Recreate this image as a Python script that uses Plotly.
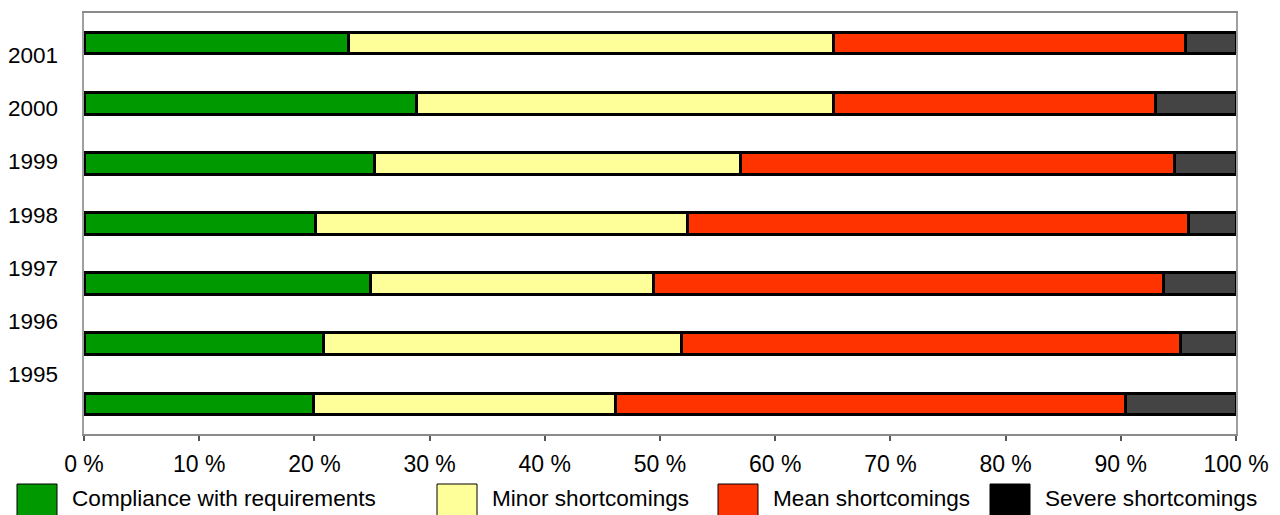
import plotly.graph_objects as go

# Survey years, top to bottom
years = ["2001", "2000", "1999", "1998", "1997", "1996", "1995"]

# Share of inspected sites per rating class (%)
compliance = [23.0, 28.9, 25.2, 20.1, 24.9, 20.8, 19.9]
minor = [42.1, 36.2, 31.8, 32.3, 24.5, 31.1, 26.2]
mean = [30.5, 27.9, 37.7, 43.5, 44.3, 43.3, 44.3]
severe = [4.4, 7.0, 5.3, 4.1, 6.3, 4.8, 9.6]

series_names = ["Compliance with requirements", "Minor shortcomings",
                "Mean shortcomings", "Severe shortcomings"]
bar_colors = ["#009900", "#FFFF99", "#FF3300", "#444444"]
legend_colors = ["#009900", "#FFFF99", "#FF3300", "#000000"]

x_ticks = list(range(0, 101, 10))
x_ticktext = [f"{v} %" for v in x_ticks]

W, H = 1280, 515
ML, MR, MT, MB = 84, 44, 13, 81
FONT = "Liberation Sans, Arial, sans-serif"

fig = go.Figure()
for name, vals, col in zip(series_names, [compliance, minor, mean, severe], bar_colors):
    fig.add_trace(go.Bar(
        y=years, x=vals, orientation="h", name=name,
        marker=dict(color=col, line=dict(color="#000000", width=3)),
        width=0.36, showlegend=False, hoverinfo="x+y+name",
    ))

# year labels sit on a separate, evenly spaced scale beside the bars
label_years = [int(y) for y in years]
fig.add_trace(go.Scatter(x=[None], y=[None], yaxis="y2", showlegend=False))

fig.update_layout(
    width=W, height=H,
    margin=dict(l=ML, r=MR, t=MT, b=MB, pad=0, autoexpand=False),
    barmode="stack",
    plot_bgcolor="white", paper_bgcolor="white",
    font=dict(family=FONT, size=22, color="#000000"),
    xaxis=dict(
        range=[0, 100], tickvals=x_ticks, ticktext=x_ticktext,
        showgrid=False, zeroline=False, automargin=False,
        showline=True, linecolor="#8a8a8a", linewidth=2, mirror=True,
        ticks="outside", ticklen=5, tickwidth=1.5, tickcolor="#555555",
        tickfont=dict(size=23, family=FONT, color="#000000"),
        ticklabelstandoff=3, fixedrange=True,
    ),
    yaxis=dict(
        categoryorder="array", categoryarray=years[::-1],
        range=[-0.5, 6.5], showticklabels=False, ticks="",
        showgrid=False, zeroline=False, automargin=False,
        showline=True, linecolor="#a0a0a0", linewidth=2, mirror=True,
        fixedrange=True,
    ),
    yaxis2=dict(
        overlaying="y", side="left",
        range=[1993.882, 2001.785],
        tickvals=label_years, ticktext=years,
        showgrid=False, zeroline=False, showline=False, ticks="",
        automargin=False,
        tickfont=dict(size=22.5, family=FONT, color="#000000"),
        ticklabelstandoff=25, fixedrange=True,
    ),
)

# legend row below the axis: swatch + label per series
legend_px = [17, 437, 718, 990]
plot_w = W - ML - MR
plot_h = H - MT - MB
box_top_px, box_size = 484, 40
text_mid_px = 498
for px, name, col in zip(legend_px, series_names, legend_colors):
    x0 = (px - ML) / plot_w
    x1 = (px + box_size - ML) / plot_w
    y_top = (H - MB - box_top_px) / plot_h
    y_bot = (H - MB - box_top_px - box_size) / plot_h
    fig.add_shape(type="rect", xref="paper", yref="paper",
                  x0=x0, x1=x1, y0=y_bot, y1=y_top,
                  fillcolor=col, line=dict(color="#000000", width=1))
    fig.add_annotation(xref="paper", yref="paper",
                       x=(px + box_size + 13 - ML) / plot_w,
                       y=(H - MB - text_mid_px) / plot_h,
                       text=name, showarrow=False, xanchor="left", yanchor="middle",
                       font=dict(size=22.6, family=FONT, color="#000000"))

fig.write_html("out.html")
